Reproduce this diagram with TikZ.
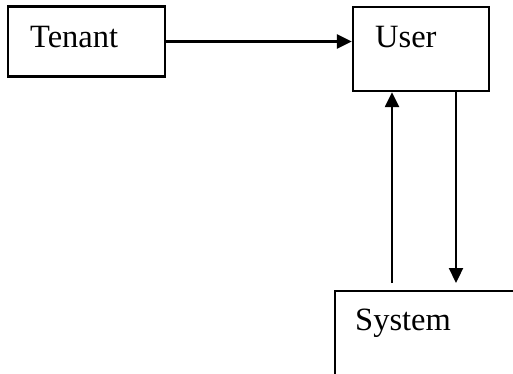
\documentclass[tikz,border=0pt]{standalone}
\usepackage{fontspec}
\setmainfont{Liberation Serif}
\usetikzlibrary{arrows.meta}
\begin{document}
\begin{tikzpicture}[x=1pt,y=1pt,
  box/.style={draw=black,line width=2.3pt,rectangle,inner sep=0pt},
  lbl/.style={anchor=base west,inner sep=0pt,font=\fontsize{32.5}{38}\selectfont},
  conn/.style={line width=2.3pt,-{Triangle[length=15pt,width=14pt]}}]
\useasboundingbox (0,0) rectangle (513,-374);
\clip (0,0) rectangle (513,-374);
\fill[white] (0,0) rectangle (513,-374);
\node[box,minimum width=157pt,minimum height=70pt] (tenant) at (86.5,-41.5) {};
\node[box,minimum width=136pt,minimum height=84pt] (user) at (421,-49) {};
\node[box,minimum width=200pt,minimum height=140pt] (system) at (435,-361) {};
\node[lbl] (tenantt) at (30,-47.5) {Tenant};
\node[lbl] (usert) at (375,-47.5) {User};
\node[lbl] (systemt) at (355,-330) {System};
\coordinate (upstart) at (392,-283);
\coordinate (downend) at (456,-283);
\draw[conn] (tenant.east) -- (user.west |- tenant.east);
\draw[conn] (upstart) -- (upstart |- user.south);
\draw[conn] (downend |- user.south) -- (downend);
\end{tikzpicture}
\end{document}
